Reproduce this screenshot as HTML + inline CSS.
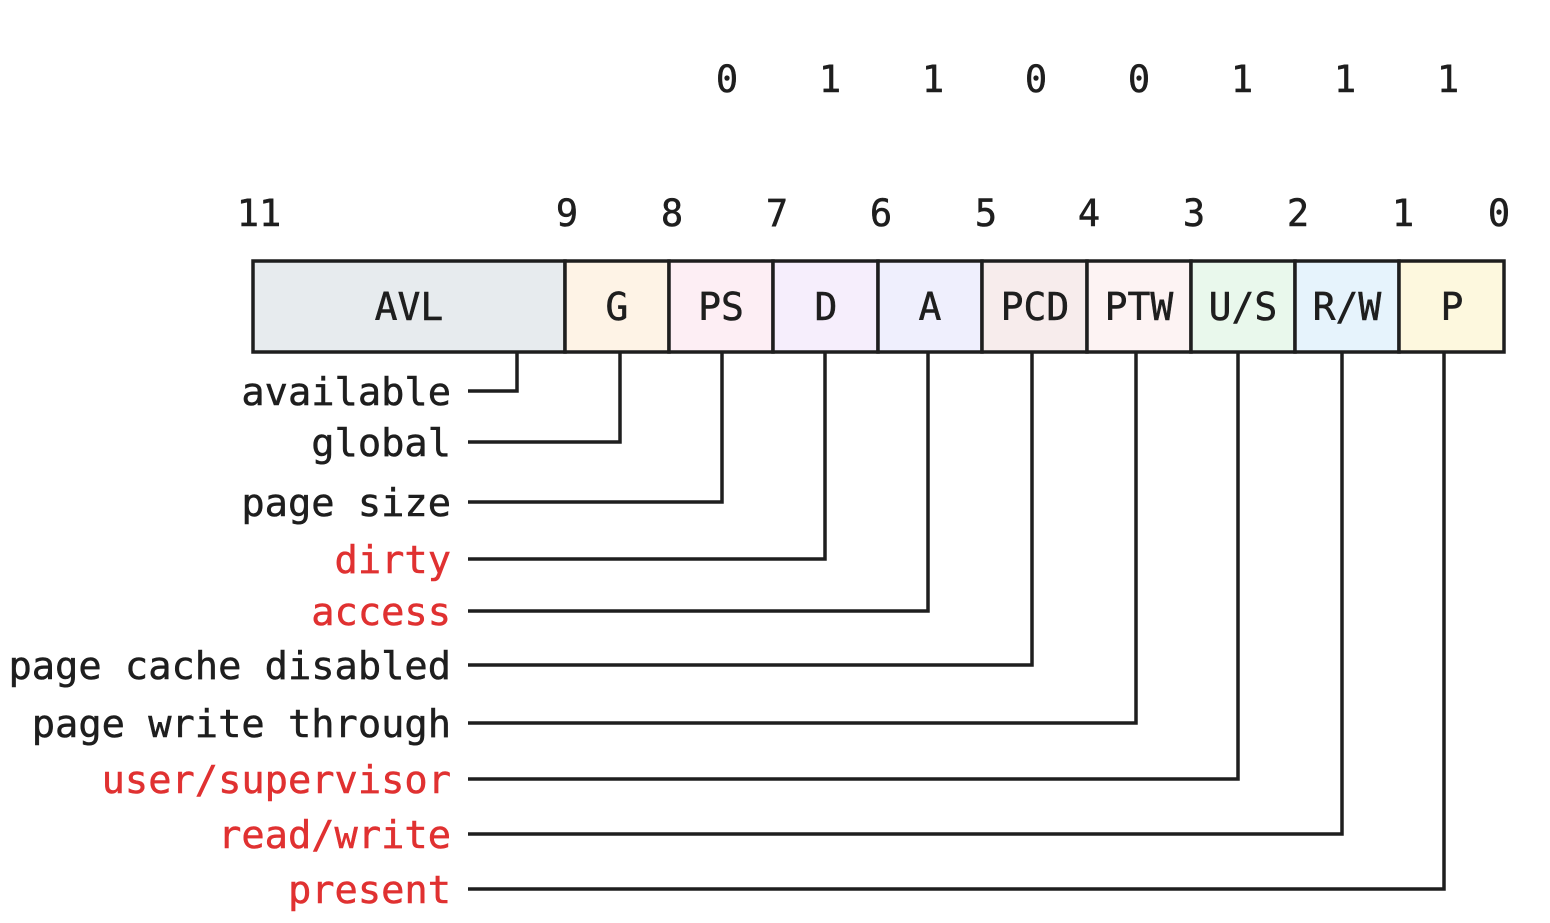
<!DOCTYPE html>
<html><head><meta charset="utf-8"><style>
html,body{margin:0;padding:0;background:#fff;}
svg{display:block;}
text{font-family:"DejaVu Sans Mono","Liberation Mono",monospace;fill:#1e1e1e;stroke:#1e1e1e;stroke-width:0.5;}
.r{fill:#e03131;stroke:#e03131;}
</style></head><body>
<svg width="1550" height="923" viewBox="0 0 1550 923" xmlns="http://www.w3.org/2000/svg">
<g font-size="37" text-anchor="middle">
<text x="727" y="92">0</text><text x="830" y="92">1</text><text x="933" y="92">1</text><text x="1036" y="92">0</text>
<text x="1139" y="92">0</text><text x="1242" y="92">1</text><text x="1345" y="92">1</text><text x="1448" y="92">1</text>
<text x="259" y="226">11</text><text x="567" y="226">9</text><text x="672" y="226">8</text><text x="777" y="226">7</text>
<text x="881" y="226">6</text><text x="986" y="226">5</text><text x="1089" y="226">4</text><text x="1194" y="226">3</text>
<text x="1298" y="226">2</text><text x="1403" y="226">1</text><text x="1499" y="226">0</text>
</g>
<g stroke="#1e1e1e" stroke-width="3.5">
<rect x="253" y="261" width="312" height="91" fill="#e7ebee"/>
<rect x="565" y="261" width="104" height="91" fill="#fef3e6"/>
<rect x="669" y="261" width="104" height="91" fill="#fdeef4"/>
<rect x="773" y="261" width="105" height="91" fill="#f6eefc"/>
<rect x="878" y="261" width="104" height="91" fill="#efeffd"/>
<rect x="982" y="261" width="105" height="91" fill="#f7ecec"/>
<rect x="1087" y="261" width="104" height="91" fill="#fdf3f3"/>
<rect x="1191" y="261" width="104" height="91" fill="#e9f8ec"/>
<rect x="1295" y="261" width="104" height="91" fill="#e6f3fc"/>
<rect x="1399" y="261" width="105" height="91" fill="#fdf8de"/>
</g>
<g font-size="38" text-anchor="middle">
<text x="409" y="320">AVL</text><text x="617" y="320">G</text><text x="721" y="320">PS</text><text x="826" y="320">D</text>
<text x="930" y="320">A</text><text x="1035" y="320">PCD</text><text x="1139" y="320">PTW</text><text x="1243" y="320">U/S</text>
<text x="1347" y="320">R/W</text><text x="1452" y="320">P</text>
</g>
<g stroke="#1e1e1e" stroke-width="3.5" fill="none">
<polyline points="468,391 517,391 517,353"/>
<polyline points="468,442 620,442 620,353"/>
<polyline points="468,502 722,502 722,353"/>
<polyline points="468,559 825,559 825,353"/>
<polyline points="468,611 928,611 928,353"/>
<polyline points="468,665 1032,665 1032,353"/>
<polyline points="468,723 1136,723 1136,353"/>
<polyline points="468,779 1238,779 1238,353"/>
<polyline points="468,834 1342,834 1342,353"/>
<polyline points="468,889 1444,889 1444,353"/>
</g>
<g font-size="38.7" text-anchor="end">
<text x="451" y="405">available</text>
<text x="451" y="456">global</text>
<text x="451" y="516">page size</text>
<text x="451" y="573" class="r">dirty</text>
<text x="451" y="625" class="r">access</text>
<text x="451" y="679">page cache disabled</text>
<text x="451" y="737">page write through</text>
<text x="451" y="793" class="r">user/supervisor</text>
<text x="451" y="848" class="r">read/write</text>
<text x="451" y="903" class="r">present</text>
</g>
</svg>
</body></html>
